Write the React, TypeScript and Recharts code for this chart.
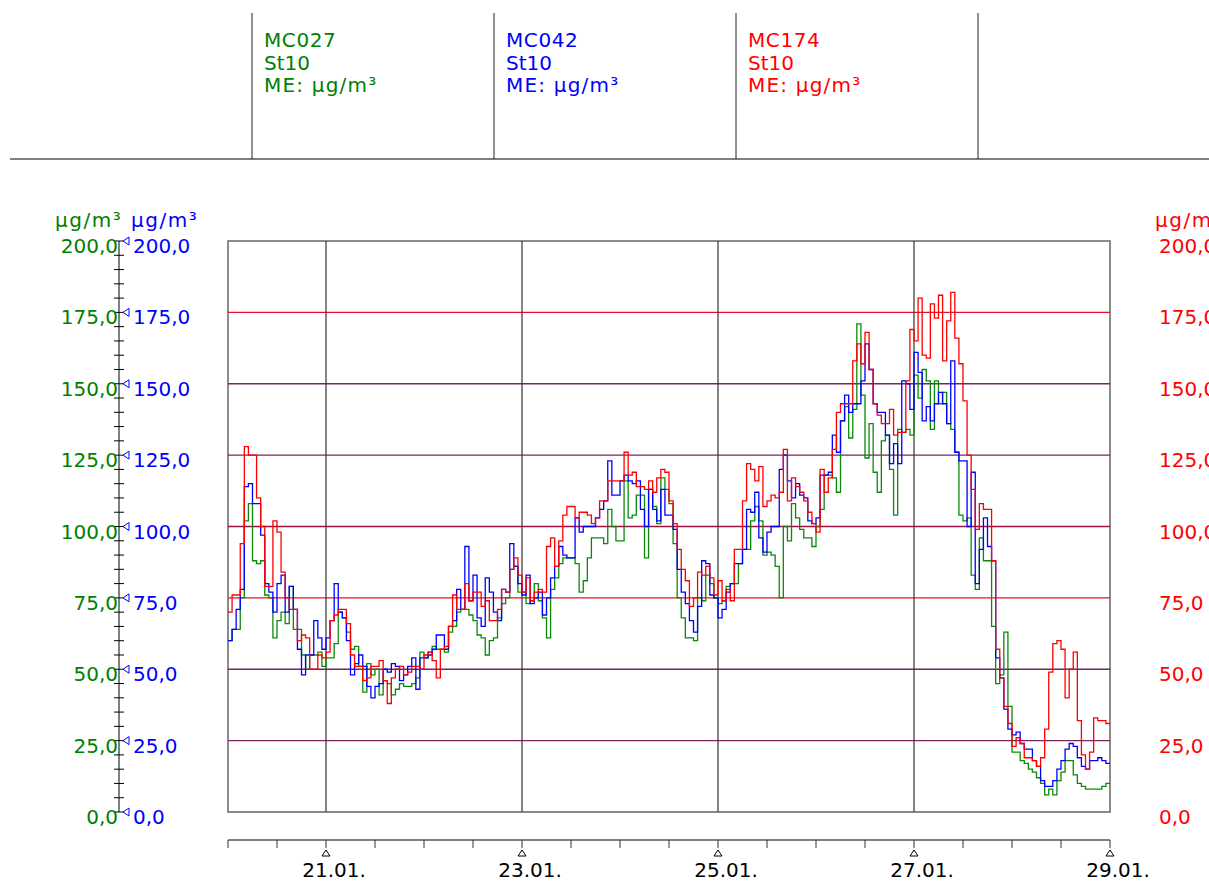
import React from "react";
import { LineChart, Line, XAxis, YAxis, ReferenceLine, ReferenceArea } from "recharts";

// hourly means, 20.01. 00:00 .. 28.01. 23:00 (one row per day)
const green = [
  60, 64, 64, 75, 102, 108, 88, 87, 88, 76, 75, 61, 67, 70, 66, 79, 64, 64, 55, 50, 55, 55, 56, 51,
  54, 54, 59, 70, 68, 63, 57, 58, 51, 42, 52, 48, 50, 41, 46, 45, 41, 43, 45, 44, 44, 45, 47, 56,
  54, 56, 58, 57, 57, 56, 63, 65, 70, 71, 71, 69, 67, 62, 61, 55, 60, 61, 68, 73, 75, 85, 86, 77,
  77, 73, 74, 80, 74, 68, 61, 78, 82, 87, 89, 89, 89, 87, 77, 81, 89, 96, 96, 96, 94, 106, 100, 95,
  95, 116, 103, 104, 111, 111, 89, 113, 107, 101, 117, 113, 108, 94, 75, 68, 61, 61, 60, 75, 74, 83, 80, 75,
  73, 74, 79, 80, 80, 87, 92, 92, 102, 107, 102, 90, 91, 90, 86, 75, 100, 95, 108, 103, 99, 96, 96, 93,
  100, 106, 118, 118, 117, 112, 137, 142, 131, 141, 171, 146, 124, 136, 119, 112, 130, 132, 120, 104, 134, 133, 134, 132,
  153, 145, 155, 151, 134, 151, 143, 147, 136, 134, 126, 104, 102, 103, 83, 78, 96, 88, 88, 65, 45, 48, 63, 37,
  21, 21, 18, 17, 15, 14, 12, 10, 6, 8, 6, 11, 14, 18, 18, 13, 10, 9, 8, 8, 8, 8, 9, 10,
];

const blue = [
  60, 64, 71, 78, 114, 115, 108, 108, 97, 80, 77, 70, 80, 83, 70, 79, 71, 57, 48, 55, 55, 67, 61, 57,
  61, 67, 80, 70, 68, 60, 48, 52, 55, 51, 44, 40, 44, 45, 50, 49, 52, 51, 46, 48, 51, 54, 43, 54,
  54, 55, 57, 62, 62, 57, 65, 67, 78, 71, 93, 74, 83, 68, 65, 82, 77, 70, 67, 78, 77, 94, 86, 80,
  76, 83, 73, 75, 77, 69, 75, 82, 86, 93, 90, 89, 89, 103, 98, 100, 100, 100, 103, 106, 109, 123, 111, 111,
  116, 118, 116, 115, 116, 106, 100, 113, 106, 102, 113, 104, 104, 99, 85, 77, 73, 67, 63, 72, 88, 87, 76, 75,
  68, 71, 77, 80, 87, 87, 92, 106, 105, 112, 96, 91, 98, 100, 100, 120, 125, 116, 110, 115, 111, 110, 102, 101,
  103, 118, 118, 119, 132, 126, 137, 146, 140, 143, 143, 151, 164, 155, 143, 140, 140, 132, 122, 129, 122, 151, 150, 141,
  161, 154, 137, 142, 137, 143, 147, 143, 136, 158, 126, 123, 123, 100, 119, 80, 92, 103, 93, 88, 54, 47, 36, 29,
  27, 28, 24, 22, 22, 18, 16, 11, 9, 9, 11, 15, 18, 22, 24, 23, 19, 16, 15, 18, 18, 19, 18, 17,
];

const red = [
  70, 76, 76, 94, 128, 125, 125, 110, 100, 79, 79, 102, 98, 84, 75, 71, 71, 60, 62, 61, 50, 50, 55, 54,
  56, 67, 69, 71, 71, 66, 55, 51, 51, 46, 47, 51, 51, 53, 46, 38, 47, 50, 51, 48, 49, 51, 51, 50,
  55, 56, 53, 47, 57, 58, 65, 76, 71, 71, 80, 74, 77, 77, 72, 74, 67, 67, 71, 78, 77, 85, 89, 83,
  77, 82, 74, 77, 78, 77, 93, 96, 86, 95, 104, 107, 107, 103, 105, 105, 104, 101, 103, 109, 109, 116, 116, 116,
  116, 126, 118, 119, 114, 114, 113, 116, 112, 117, 120, 119, 109, 101, 92, 85, 81, 72, 75, 84, 83, 86, 82, 76,
  81, 74, 78, 74, 92, 92, 109, 122, 120, 116, 121, 107, 109, 111, 110, 112, 127, 109, 117, 114, 112, 109, 105, 101,
  98, 120, 112, 117, 127, 140, 143, 143, 143, 158, 164, 157, 168, 155, 143, 139, 136, 136, 141, 132, 133, 133, 151, 169,
  165, 180, 160, 159, 178, 173, 181, 158, 172, 182, 166, 157, 144, 125, 113, 99, 108, 106, 106, 88, 57, 47, 37, 31,
  23, 26, 24, 19, 19, 18, 16, 19, 29, 49, 59, 60, 57, 40, 50, 56, 32, 20, 15, 21, 33, 32, 32, 31,
];

const seriesNames = ["MC027", "MC042", "MC174"];
const station = "St10";
const unitLine = "ME: µg/m³";
const unit = "µg/m³";

const minorTicks = [
  0, 5, 10, 15, 20, 25, 30, 35, 40, 45, 50, 55, 60, 65, 70, 75, 80, 85, 90, 95, 100,
  105, 110, 115, 120, 125, 130, 135, 140, 145, 150, 155, 160, 165, 170, 175, 180, 185, 190, 195, 200,
];
const majorTicks = [0, 25, 50, 75, 100, 125, 150, 175, 200];
const hourTicks = [0, 12, 24, 36, 48, 60, 72, 84, 96, 108, 120, 132, 144, 156, 168, 180, 192, 204, 216];
const dayLabels: Record<number, string> = { 24: "21.01.", 72: "23.01.", 120: "25.01.", 168: "27.01.", 216: "29.01." };
const dayLines = [24, 72, 120, 168];
const levelLines = [25, 50, 75, 100, 125, 150, 175];

const GREEN = "#008000";
const BLUE = "#0000ff";
const RED = "#ff0000";
const FONT = "'DejaVu Sans', sans-serif";
const levelColor: Record<number, string> = {
  25: "#7a2463", 50: "#7a2463", 75: "#e8102a", 100: "#a01040", 125: "#85205e", 150: "#7a2463", 175: "#e8102a",
};

const rows = green.map((g, i) => ({ h: i, g, b: blue[i], r: red[i] }));
// repeat last hour so the final step reaches the right edge
rows.push({ h: green.length, g: green[green.length - 1], b: blue[blue.length - 1], r: red[red.length - 1] });

const fmt = (v: number) => v.toFixed(1).replace(".", ",");

function GreenTick({ x, y, payload }: any) {
  const v = payload.value;
  const major = v % 25 === 0;
  return (
    <g>
      <line x1={x - 5} x2={x + 5} y1={y} y2={y} stroke="#000" strokeWidth={1} />
      {major && (
        <>
          <text x={x - 1} y={y + 12} textAnchor="end" fill={GREEN} fontSize={20} fontFamily={FONT}>
            {fmt(v)}
          </text>
          <path d={`M${x + 4},${y} L${x + 10},${y - 4} L${x + 10},${y + 4} Z`} fill="none" stroke={BLUE} strokeWidth={1} />
        </>
      )}
    </g>
  );
}

function BlueTick({ x, y, payload }: any) {
  return (
    <text x={x - 95} y={y + 12} textAnchor="start" fill={BLUE} fontSize={20} fontFamily={FONT}>
      {fmt(payload.value)}
    </text>
  );
}

function RedTick({ x, y, payload }: any) {
  return (
    <text x={x + 49} y={y + 12} textAnchor="start" fill={RED} fontSize={20} fontFamily={FONT}>
      {fmt(payload.value)}
    </text>
  );
}

function TimeTick({ x, y, payload }: any) {
  const label = dayLabels[payload.value];
  if (!label) return <g />;
  return (
    <g>
      <path d={`M${x},${y + 2} L${x - 4},${y + 8} L${x + 4},${y + 8} Z`} fill="none" stroke="#000" strokeWidth={1} />
      <text x={x + 8} y={y + 29} textAnchor="middle" fill="#000" fontSize={20} fontFamily={FONT}>
        {label}
      </text>
    </g>
  );
}

export default function App() {
  const cols = [252, 494, 736, 978];
  const colColors = [GREEN, BLUE, RED];
  return (
    <div style={{ position: "absolute", left: 0, top: 0, width: 1209, height: 882, background: "#fff", fontFamily: FONT, overflow: "hidden" }}>
      <LineChart width={1209} height={882} data={rows} margin={{ top: 241, right: 0, bottom: 0, left: 0 }}>
        <XAxis xAxisId="s" dataKey="h" type="number" domain={[0, 216]} height={28} tick={false} axisLine={false} tickLine={false} />
        <XAxis
          xAxisId="t"
          dataKey="h"
          type="number"
          domain={[0, 216]}
          ticks={hourTicks}
          interval={0}
          height={42}
          tickSize={8}
          tickMargin={0}
          axisLine={{ stroke: "#555", strokeWidth: 1.5 }}
          tickLine={{ stroke: "#333" }}
          tick={TimeTick}
        />
        <YAxis yAxisId="b" orientation="left" width={109} domain={[0, 200]} ticks={majorTicks} interval={0} tickSize={0} tickMargin={0} axisLine={false} tickLine={false} tick={BlueTick} />
        <YAxis yAxisId="g" orientation="left" width={119} domain={[0, 200]} ticks={minorTicks} interval={0} tickSize={0} tickMargin={0} axisLine={{ stroke: "#000" }} tickLine={false} tick={GreenTick} />
        <YAxis yAxisId="r" orientation="right" width={99} domain={[0, 200]} ticks={majorTicks} interval={0} tickSize={0} tickMargin={0} axisLine={false} tickLine={false} tick={RedTick} />

        {levelLines.map((v) => (
          <ReferenceLine key={"l" + v} xAxisId="t" yAxisId="g" y={v} stroke={levelColor[v]} strokeWidth={1.4} />
        ))}
        {dayLines.map((h) => (
          <ReferenceLine key={"d" + h} xAxisId="t" yAxisId="g" x={h} stroke="#333" strokeWidth={1.2} />
        ))}
        <ReferenceArea xAxisId="t" yAxisId="g" x1={0} x2={216} y1={0} y2={200} fill="none" fillOpacity={0} stroke="#666" strokeWidth={1.5} />

        <Line xAxisId="t" yAxisId="g" type="stepAfter" dataKey="g" stroke="#0a8a0a" strokeWidth={1.3} dot={false} isAnimationActive={false} />
        <Line xAxisId="t" yAxisId="b" type="stepAfter" dataKey="b" stroke={BLUE} strokeWidth={1.3} dot={false} isAnimationActive={false} />
        <Line xAxisId="t" yAxisId="r" type="stepAfter" dataKey="r" stroke={RED} strokeWidth={1.3} dot={false} isAnimationActive={false} />
      </LineChart>

      <svg width={1209} height={882} style={{ position: "absolute", left: 0, top: 0, pointerEvents: "none" }}>
        <line x1={10} x2={1209} y1={159} y2={159} stroke="#555" strokeWidth={1.5} />
        {cols.map((x) => (
          <line key={x} x1={x} x2={x} y1={13} y2={159} stroke="#222" strokeWidth={1} />
        ))}
        {seriesNames.map((name, i) => (
          <text key={name} x={cols[i] + 12} fill={colColors[i]} fontSize={20} fontFamily={FONT}>
            <tspan x={cols[i] + 12} y={47} letterSpacing={0.6}>{name}</tspan>
            <tspan x={cols[i] + 12} y={69.5}>{station}</tspan>
            <tspan x={cols[i] + 12} y={92} letterSpacing={1.2}>{unitLine}</tspan>
          </text>
        ))}
        <text x={55} y={227} fill={GREEN} fontSize={20} fontFamily={FONT} letterSpacing={1.5}>{unit}</text>
        <text x={131} y={227} fill={BLUE} fontSize={20} fontFamily={FONT} letterSpacing={1.5}>{unit}</text>
        <text x={1155} y={227} fill={RED} fontSize={20} fontFamily={FONT} letterSpacing={1.5}>{unit}</text>
      </svg>
    </div>
  );
}
